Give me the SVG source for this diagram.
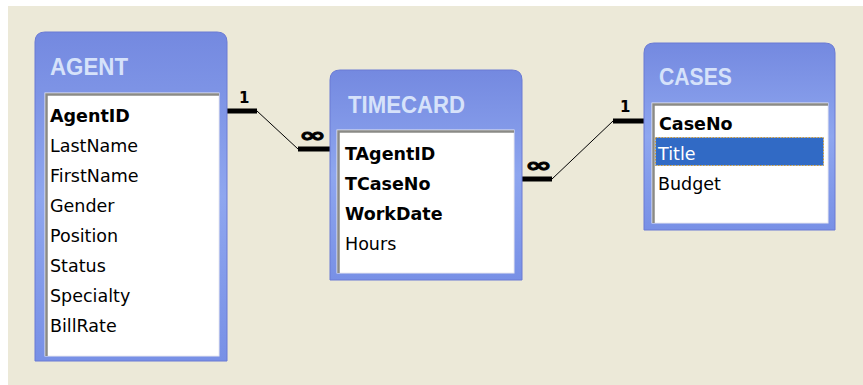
<svg xmlns="http://www.w3.org/2000/svg" width="863" height="385" viewBox="0 0 863 385">
<defs>
<linearGradient id="hdr" x1="0" y1="0" x2="0" y2="1">
<stop offset="0" stop-color="#7489e0"/>
<stop offset="0.5" stop-color="#8ea6ef"/>
<stop offset="1" stop-color="#7890e6"/>
</linearGradient>
<style>
.outer{fill:url(#hdr);stroke:#6a7ad4;stroke-width:1}
.inner{fill:#ffffff;stroke:#e8e8f0;stroke-width:1}
.bevel{fill:none;stroke:#8a8a86;stroke-width:2.5}
.title{font-family:"Liberation Sans",Arial,sans-serif;font-weight:bold;font-size:23px;fill:#d6e2fa}
.f{font-family:"DejaVu Sans",Verdana,sans-serif;font-size:17.5px;fill:#000}
.k{font-weight:bold}
.bar{stroke:#000;stroke-width:5;fill:none}
.thin{stroke:#000;stroke-width:1;fill:none}
.lbl{font-family:"DejaVu Sans",Verdana,sans-serif;font-weight:bold;font-size:15px;fill:#000}
.inf{font-family:"DejaVu Sans",Verdana,sans-serif;font-weight:bold;font-size:20px;fill:#000;stroke:#000;stroke-width:0.8}
</style>
</defs>
<rect x="0" y="0" width="863" height="385" fill="#ffffff"/>
<rect x="8" y="6" width="855" height="379" fill="#ece9d8"/>

<g id="connectors">
<line class="bar" x1="227" y1="111" x2="257" y2="111"/>
<line class="thin" x1="257" y1="111" x2="298" y2="149"/>
<line class="bar" x1="298" y1="149" x2="330" y2="149"/>
<text class="lbl" x="239" y="103">1</text>
<text class="inf" x="299" y="142" textLength="27" lengthAdjust="spacingAndGlyphs">∞</text>
<line class="bar" x1="522" y1="179" x2="552" y2="179"/>
<line class="thin" x1="552" y1="179" x2="613" y2="121"/>
<line class="bar" x1="613" y1="121" x2="644" y2="121"/>
<text class="lbl" x="620" y="112">1</text>
<text class="inf" x="525" y="172" textLength="27" lengthAdjust="spacingAndGlyphs">∞</text>
</g>

<g id="agent">
<path class="outer" d="M35,361 V42 Q35,32 45,32 H217 Q227,32 227,42 V361 Z"/>
<text class="title" x="50" y="75" textLength="78" lengthAdjust="spacingAndGlyphs">AGENT</text>
<rect class="inner" x="45" y="93" width="174" height="263"/>
<path class="bevel" d="M46.5,356 V94.5 H219"/>
<text class="f k" x="50" y="122">AgentID</text>
<text class="f" x="50" y="152">LastName</text>
<text class="f" x="50" y="182">FirstName</text>
<text class="f" x="50" y="212">Gender</text>
<text class="f" x="50" y="242">Position</text>
<text class="f" x="50" y="272">Status</text>
<text class="f" x="50" y="302">Specialty</text>
<text class="f" x="50" y="332">BillRate</text>
</g>

<g id="timecard">
<path class="outer" d="M330,280 V80 Q330,70 340,70 H512 Q522,70 522,80 V280 Z"/>
<text class="title" x="348" y="113" textLength="117" lengthAdjust="spacingAndGlyphs">TIMECARD</text>
<rect class="inner" x="337" y="130" width="177" height="143"/>
<path class="bevel" d="M338.5,273 V131.5 H514"/>
<text class="f k" x="345" y="160">TAgentID</text>
<text class="f k" x="345" y="190">TCaseNo</text>
<text class="f k" x="345" y="220">WorkDate</text>
<text class="f" x="345" y="250">Hours</text>
</g>

<g id="cases">
<path class="outer" d="M644,230 V53 Q644,43 654,43 H825 Q835,43 835,53 V230 Z"/>
<text class="title" x="659" y="85" textLength="73" lengthAdjust="spacingAndGlyphs">CASES</text>
<rect class="inner" x="652" y="103" width="176" height="120"/>
<path class="bevel" d="M653.5,223 V104.5 H828"/>
<text class="f k" x="659" y="130">CaseNo</text>
<rect x="655.5" y="137.5" width="168" height="28" fill="#316ac5" stroke="#c89a3a" stroke-width="1" stroke-dasharray="1.5,1.5"/>
<text class="f" x="658" y="160" style="fill:#ffffff">Title</text>
<text class="f" x="658" y="190">Budget</text>
</g>
</svg>
